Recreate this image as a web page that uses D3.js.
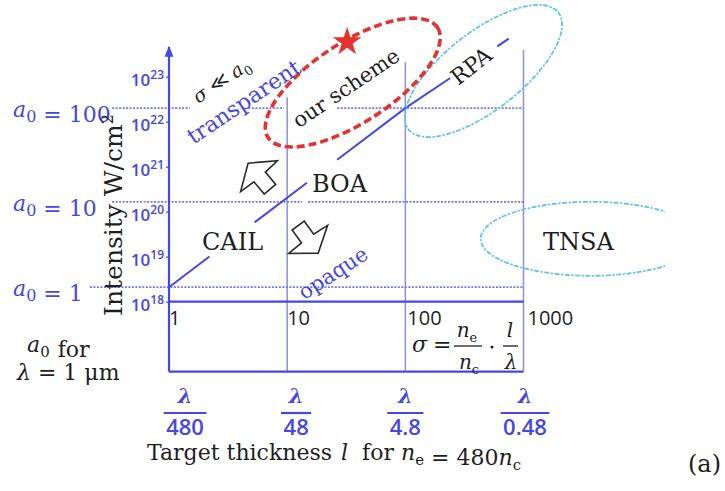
<!DOCTYPE html>
<html>
<head>
<meta charset="utf-8">
<script src="https://cdn.jsdelivr.net/npm/d3@7"></script>
<style>
  html, body { margin: 0; padding: 0; background: #fff; }
  svg { display: block; }
</style>
</head>
<body>
<script>
// ---------- data ----------
const sigmaTicks = [1, 10, 100, 1000];                 // sigma = (ne/nc)(l/lambda)
const intensityExponents = [18, 19, 20, 21, 22, 23];   // W/cm^2 decades
const a0Values = [1, 10, 100];
const a0Intensity = [2.1e18, 1.65e20, 2.0e22];         // level of each a0 line
// sigma extents of the dotted a0 lines (gaps leave room for labels)
const a0Spans = [
  [[0.214, 1000]],
  [[0.33, 13.4], [15.0, 1000]],
  [[0.33, 1.5], [4.7, 9.4], [26.5, 1000]]
];
// boundary a0 ~ sigma between transparent and opaque targets
const boundarySigma = [1, 100, 750];
const boundaryIntensity = [2.1e18, 2.0e22, 7.0e23];
const boundarySpans = [[1, 2.2], [5.3, 14.7], [26.5, 240], [600, 750]];
const gridTopIntensity = [3.5e22, 2.1e23, 3.9e23];     // upper ends of sigma = 10, 100, 1000 lines
const yAxisTop = 4.6e23;
const thicknessDenominators = ["480", "48", "4.8", "0.48"];
// regimes marked by ellipses: centre (sigma, intensity)
const schemeRegion = { sigma: 35.9, intensity: 7.4e22 };
const rpaRegion = { sigma: 458, intensity: 1.34e23 };
const tnsaRegion = { sigma: 3700, intensity: 2.5e19 };
const starPoint = { sigma: 32.2, intensity: 5.9e23 };
const arrowTips = [
  { sigma: 4.67, intensity: 1.2e21, angle: -130 },
  { sigma: 18.3, intensity: 1.2e19, angle: 54 }
];

// ---------- setup ----------
const W = 725, H = 491;
const BLUE = "#4646e6", GRID = "#8c8cf2", DOT = "#7474ee", INK = "#1e1e1e";
const RED = "#e5312f", CYAN = "#5cc6e6";
const SERIF = "'DejaVu Serif', serif";
const SANS = "'Open Sans', 'DejaVu Sans', sans-serif";

const svg = d3.select("body").append("svg").attr("width", W).attr("height", H);

const x = d3.scaleLog().domain([1, 1000]).range([169, 523.5]);
const y = d3.scaleLog().domain([1e18, 1e23]).range([301.7, 76.7]);
const axisY = y(1e18);
const boxBottom = axisY + 70;

// ---------- grid & frame ----------
sigmaTicks.slice(1).forEach((s, i) => {
  svg.append("line")
    .attr("x1", x(s)).attr("x2", x(s))
    .attr("y1", y(gridTopIntensity[i])).attr("y2", boxBottom)
    .attr("stroke", GRID).attr("stroke-width", 1.5);
});

// dotted a0 levels
a0Values.forEach((a, i) => {
  a0Spans[i].forEach(([s0, s1]) => {
    svg.append("line")
      .attr("x1", x(s0)).attr("x2", x(s1))
      .attr("y1", y(a0Intensity[i])).attr("y2", y(a0Intensity[i]))
      .attr("stroke", DOT).attr("stroke-width", 1.7)
      .attr("stroke-dasharray", "2,1.5");
  });
});

// horizontal axis and bottom frame
[axisY, boxBottom].forEach(yy => {
  svg.append("line")
    .attr("x1", x(1)).attr("x2", x(1000))
    .attr("y1", yy).attr("y2", yy)
    .attr("stroke", BLUE).attr("stroke-width", 2.2);
});

// vertical intensity axis with arrow
const defs = svg.append("defs");
defs.append("marker")
  .attr("id", "arrowHead")
  .attr("viewBox", "0 0 10 10").attr("refX", 9).attr("refY", 5)
  .attr("markerWidth", 5).attr("markerHeight", 5)
  .attr("orient", "auto")
  .append("path").attr("d", "M0,1 L10,5 L0,9 Z").attr("fill", BLUE);
defs.append("clipPath").attr("id", "plotClip")
  .append("rect").attr("x", 0).attr("y", 0).attr("width", 665).attr("height", H);

svg.append("line")
  .attr("x1", x(1)).attr("x2", x(1))
  .attr("y1", boxBottom).attr("y2", y(yAxisTop))
  .attr("stroke", BLUE).attr("stroke-width", 2.2)
  .attr("marker-end", "url(#arrowHead)");

const gy = svg.append("g")
  .attr("transform", `translate(${x(1)},0)`)
  .call(d3.axisLeft(y)
    .tickValues(intensityExponents.map(e => Math.pow(10, e)))
    .tickSize(3).tickFormat(""));
gy.select(".domain").remove();
gy.selectAll(".tick line").attr("stroke", BLUE).attr("stroke-width", 1.2);
gy.selectAll(".tick text").each(function (d) {
  const t = d3.select(this);
  t.text(null)
    .attr("x", -5).attr("y", 9).attr("dy", null)
    .attr("fill", BLUE).attr("text-anchor", "end")
    .style("font-family", SANS).style("font-weight", 600).style("font-size", "17px");
  t.append("tspan").text("10");
  t.append("tspan").attr("dy", -7).style("font-size", "12px")
    .text(Math.round(Math.log10(d)));
});

// sigma tick labels
svg.selectAll(".sigmaLabel").data(sigmaTicks).join("text")
  .attr("class", "sigmaLabel")
  .attr("x", d => x(d) + (d >= 100 ? 2 + (d === 1000 ? 2 : 0) : 0))
  .attr("y", axisY + 23)
  .attr("fill", INK)
  .style("font-family", SANS).style("font-size", "20px")
  .text(d => d);

// ---------- boundary a0 = sigma ----------
const boundaryLog = d3.scaleLog().domain(boundarySigma)
  .range(boundaryIntensity.map(v => Math.log10(v)));
const boundaryLine = d3.line()
  .x(s => x(s))
  .y(s => y(Math.pow(10, boundaryLog(s))));
boundarySpans.forEach(([s0, s1]) => {
  const pts = [s0, ...boundarySigma.filter(s => s > s0 && s < s1), s1];
  svg.append("path").attr("d", boundaryLine(pts))
    .attr("fill", "none").attr("stroke", BLUE).attr("stroke-width", 2);
});

// ---------- regime ellipses ----------
function ellipse(parent, region, rx, ry, rot, color, width, dash) {
  return parent.append("ellipse")
    .attr("transform", `translate(${x(region.sigma)},${y(region.intensity)}) rotate(${rot})`)
    .attr("rx", rx).attr("ry", ry)
    .attr("fill", "none").attr("stroke", color)
    .attr("stroke-width", width).attr("stroke-dasharray", dash)
    .attr("stroke-linecap", "round");
}
const clipped = svg.append("g").attr("clip-path", "url(#plotClip)");
ellipse(svg, rpaRegion, 95, 39, -38, CYAN, 1.8, "3.5,3,0.8,3");
ellipse(clipped, tnsaRegion, 110, 37, 0, CYAN, 1.8, "3.5,3,0.8,3");
ellipse(svg, schemeRegion, 101, 40, -33, RED, 3.6, "8,4").attr("stroke-linecap", "butt");

svg.append("path")
  .attr("d", d3.symbol(d3.symbolStar, 255)())
  .attr("transform", `translate(${x(starPoint.sigma)},${y(starPoint.intensity)})`)
  .attr("fill", RED);

// ---------- hollow block arrows ----------
const arrowShape = [[0, 0], [-17, -24], [-18, -7.5], [-34, -7.5], [-34, 7.5], [-18, 7.5], [-17, 24]];
arrowTips.forEach(a => {
  svg.append("path")
    .attr("d", d3.line()(arrowShape) + "Z")
    .attr("transform", `translate(${x(a.sigma)},${y(a.intensity)}) rotate(${a.angle})`)
    .attr("fill", "#fff").attr("stroke", "#2a2a2a").attr("stroke-width", 1.6)
    .attr("stroke-linejoin", "miter");
});

// ---------- text ----------
function label(txt, px, py, opts = {}) {
  const t = svg.append("text")
    .attr("x", px).attr("y", py)
    .attr("fill", opts.fill || INK)
    .attr("text-anchor", opts.anchor || "start")
    .style("font-family", opts.family || SERIF)
    .style("font-size", (opts.size || 22) + "px")
    .style("font-style", opts.italic ? "italic" : "normal")
    .style("font-weight", opts.weight || "normal");
  if (opts.rotate !== undefined) t.attr("transform", `rotate(${opts.rotate},${px},${py})`);
  if (txt !== null) t.text(txt);
  return t;
}
function sub(t, s, size) {
  t.append("tspan").attr("dy", 5).style("font-size", size + "px").style("font-style", "normal").text(s);
  t.append("tspan").attr("dy", -5).text("");
}

// a0 level labels
a0Values.forEach((a, i) => {
  const t = label(null, 13, y(a0Intensity[i]) + 9, { fill: BLUE });
  t.append("tspan").style("font-style", "italic").text("a");
  sub(t, "0", 16);
  t.append("tspan").text(" = " + a);
});

// vertical axis title
const yt = label(null, 122, 215, { anchor: "middle", rotate: -90, size: 25 });
yt.append("tspan").text("Intensity W/cm");
yt.append("tspan").attr("dy", -9).style("font-size", "16px").text("2");

// regime names
label("BOA", 312, 192, { size: 24 });
label("CAIL", 202, 250, { size: 24 });
label("TNSA", 543, 250, { size: 24 });
label("RPA", 476, 72, { size: 22, anchor: "middle", rotate: -38 });
label("our scheme", 350, 94, { size: 21, anchor: "middle", rotate: -34 });
label("transparent", 248, 108, { size: 22, anchor: "middle", rotate: -34, fill: BLUE });
label("opaque", 337, 279, { size: 21, anchor: "middle", rotate: -33, fill: BLUE });
const sa = label(null, 225, 86, { size: 19, anchor: "middle", rotate: -34 });
sa.append("tspan").style("font-style", "italic").text("σ");
sa.append("tspan").text(" ≪ ");
sa.append("tspan").style("font-style", "italic").text("a");
sub(sa, "0", 13);

// a0 for lambda = 1 um
const af = label(null, 27, 352, { size: 22 });
af.append("tspan").style("font-style", "italic").text("a");
sub(af, "0", 15);
af.append("tspan").attr("dx", 8).text("for");
const lu = label(null, 17, 380, { size: 22 });
lu.append("tspan").style("font-style", "italic").text("λ");
lu.append("tspan").text(" = 1 μm");

// sigma definition
label("σ", 412, 352, { size: 22, italic: true });
label("=", 433, 352, { size: 22 });
const fr1 = label(null, 467, 337, { size: 20, italic: true, anchor: "middle" });
fr1.append("tspan").text("n");
sub(fr1, "e", 13);
const fr2 = label(null, 469, 369, { size: 20, italic: true, anchor: "middle" });
fr2.append("tspan").text("n");
sub(fr2, "c", 13);
svg.append("line").attr("x1", 454).attr("x2", 482).attr("y1", 346).attr("y2", 346)
  .attr("stroke", INK).attr("stroke-width", 1.3);
svg.append("circle").attr("cx", 492).attr("cy", 347).attr("r", 1.5).attr("fill", INK);
label("l", 510, 337, { size: 20, italic: true, anchor: "middle" });
label("λ", 511, 369, { size: 20, italic: true, anchor: "middle" });
svg.append("line").attr("x1", 503).attr("x2", 518).attr("y1", 346).attr("y2", 346)
  .attr("stroke", INK).attr("stroke-width", 1.3);

// thickness fractions lambda / n
thicknessDenominators.forEach((den, i) => {
  const cx = x(sigmaTicks[i]) + (i === 0 ? 16 : i === 1 ? 9 : i === 3 ? 1.5 : 0);
  label("λ", cx, 403, { size: 21, italic: true, weight: "bold", anchor: "middle", fill: BLUE });
  const d = label(den, cx, 435, { size: 22, family: SANS, weight: 600, anchor: "middle", fill: BLUE });
  const w = d.node().getComputedTextLength() + 5;
  svg.append("line").attr("x1", cx - w / 2).attr("x2", cx + w / 2)
    .attr("y1", 413).attr("y2", 413)
    .attr("stroke", BLUE).attr("stroke-width", 2.2);
});

// horizontal axis title
const tt = label(null, 147, 460, { size: 22 });
tt.append("tspan").text("Target thickness");
tt.append("tspan").attr("dx", 9).style("font-style", "italic").text("l");
tt.append("tspan").attr("dx", 14).text("for ");
tt.append("tspan").style("font-style", "italic").text("n");
sub(tt, "e", 15);
tt.append("tspan").text(" = 480");
tt.append("tspan").style("font-style", "italic").text("n");
sub(tt, "c", 15);

label("(a)", 688, 472, { size: 24 });
</script>
</body>
</html>
